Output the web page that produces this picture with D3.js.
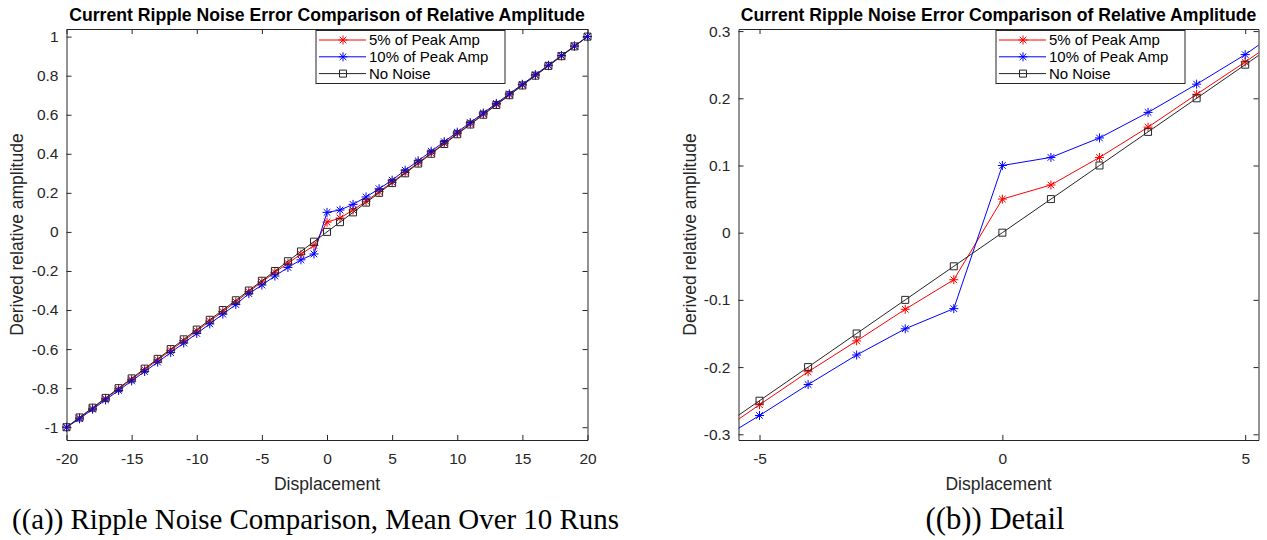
<!DOCTYPE html>
<html>
<head>
<meta charset="utf-8">
<script src="https://cdn.jsdelivr.net/npm/d3@7/dist/d3.min.js"></script>
<style>
    body { margin: 0; background: #fff; }
    svg { display: block; font-family: "Liberation Sans", Arial, Helvetica, sans-serif; }
    .axis text { fill: #262626; font-size: 15.5px; font-family: "Liberation Sans", Arial, Helvetica, sans-serif; }
    .axis path, .axis line { stroke: #262626; }
    .axisLabel { fill: #262626; font-size: 17.5px; text-anchor: middle; }
    .title { fill: #000; font-weight: bold; font-size: 15px; text-anchor: middle; }
    .caption { fill: #000; font-family: "Liberation Serif", "Times New Roman", serif; font-size: 24px; }
    .legendText { fill: #000; font-size: 15px; }
</style>
</head>
<body>
<svg id="fig" width="1267" height="540"></svg>
<script>
/* global d3 */

// Displacement steps, shared by every series
const displacement = [-20, -19, -18, -17, -16, -15, -14, -13, -12, -11, -10,
    -9, -8, -7, -6, -5, -4, -3, -2, -1, 0, 1, 2, 3, 4, 5, 6, 7, 8, 9, 10,
    11, 12, 13, 14, 15, 16, 17, 18, 19, 20];

// 5% of peak amplitude ripple noise (mean over 10 runs)
const peak5 = [-1.000, -0.952, -0.903, -0.853, -0.804, -0.755, -0.705, -0.656, -0.606, -0.557, -0.507,
    -0.457, -0.408, -0.358, -0.306, -0.256, -0.207, -0.161, -0.114, -0.070, 0.050, 0.071, 0.112, 0.157, 0.206, 0.254,
    0.304, 0.354, 0.404, 0.454, 0.504, 0.553, 0.603, 0.653, 0.702, 0.752, 0.802, 0.851, 0.901, 0.951, 1.000];

// 10% of peak amplitude ripple noise
const peak10 = [-1.000, -0.957, -0.908, -0.860, -0.812, -0.763, -0.715, -0.667, -0.618, -0.569, -0.520,
    -0.471, -0.421, -0.372, -0.316, -0.272, -0.226, -0.182, -0.143, -0.113, 0.100, 0.112, 0.141, 0.179, 0.221, 0.265,
    0.316, 0.364, 0.413, 0.462, 0.511, 0.560, 0.609, 0.658, 0.707, 0.756, 0.805, 0.854, 0.903, 0.952, 1.000];

// No noise reference
const noNoise = [-1.00, -0.95, -0.90, -0.85, -0.80, -0.75, -0.70, -0.65, -0.60, -0.55, -0.50,
    -0.45, -0.40, -0.35, -0.30, -0.25, -0.20, -0.15, -0.10, -0.05, 0.00, 0.05, 0.10, 0.15, 0.20, 0.25,
    0.30, 0.35, 0.40, 0.45, 0.50, 0.55, 0.60, 0.65, 0.70, 0.75, 0.80, 0.85, 0.90, 0.95, 1.00];

const seriesNames = ['5% of Peak Amp', '10% of Peak Amp', 'No Noise'];
const seriesColors = ['#ff0000', '#0000ff', '#262626'];
const seriesMarkers = ['star', 'star', 'square'];

const fullXTicks = [-20, -15, -10, -5, 0, 5, 10, 15, 20];
const fullYTicks = [-1, -0.8, -0.6, -0.4, -0.2, 0, 0.2, 0.4, 0.6, 0.8, 1];
const detailXTicks = [-5, 0, 5];
const detailYTicks = [-0.3, -0.2, -0.1, 0, 0.1, 0.2, 0.3];

const titleText = 'Current Ripple Noise Error Comparison of Relative Amplitude';
const xLabelText = 'Displacement';
const yLabelText = 'Derived relative amplitude';

// build rows for each series
const series = [peak5, peak10, noNoise].map((vals, i) => ({
    name: seriesNames[i],
    color: seriesColors[i],
    marker: seriesMarkers[i],
    values: displacement.map((x, j) => [x, vals[j]])
}));

// star = plus + cross, like matlab '*'
function markerPath(type) {
    if (type === 'square') return 'M-3.5,-3.5H3.5V3.5H-3.5Z';
    const r = 4.5, d = 3.3;
    return 'M0,' + (-r) + 'V' + r + 'M' + (-r) + ',0H' + r +
        'M' + (-d) + ',' + (-d) + 'L' + d + ',' + d + 'M' + (-d) + ',' + d + 'L' + d + ',' + (-d);
}

function fitWidth(sel, target) {
    const w = sel.node().getComputedTextLength();
    const fs = parseFloat(sel.style('font-size'));
    sel.style('font-size', (fs * target / w) + 'px');
}

function ripplechart() {
    let box = { left: 66, top: 29, right: 587, bottom: 440 },
        xDomain = [-20, 20],
        yDomain = [-1, 1],
        xTicks = [],
        yTicks = [],
        clip = false,
        id = 'c',
        yLabelX = 17,
        legendX = 316,
        xScale = d3.scaleLinear(),
        yScale = d3.scaleLinear();

    function chart(svg) {
        const width = box.right - box.left,
            height = box.bottom - box.top;
        const g = svg.append('g')
            .attr('transform', 'translate(' + box.left + ',' + box.top + ')');

        xScale.domain(xDomain).range([0, width]);
        yScale.domain(yDomain).range([height, 0]);

        const fmt = d => String(+d.toFixed(2));

        // bottom + left axes with inward ticks
        g.append('g').attr('class', 'axis')
            .attr('transform', 'translate(0,' + height + ')')
            .call(d3.axisBottom(xScale).tickValues(xTicks).tickFormat(fmt)
                .tickSizeInner(-5).tickSizeOuter(0).tickPadding(13));
        g.append('g').attr('class', 'axis')
            .call(d3.axisLeft(yScale).tickValues(yTicks).tickFormat(fmt)
                .tickSizeInner(-5).tickSizeOuter(0).tickPadding(8));
        // top + right, ticks only
        g.append('g').attr('class', 'axis')
            .call(d3.axisTop(xScale).tickValues(xTicks).tickFormat('')
                .tickSizeInner(-5).tickSizeOuter(0));
        g.append('g').attr('class', 'axis')
            .attr('transform', 'translate(' + width + ',0)')
            .call(d3.axisRight(yScale).tickValues(yTicks).tickFormat('')
                .tickSizeInner(-5).tickSizeOuter(0));

        // Title
        const title = g.append('text')
            .attr('class', 'title')
            .attr('x', width / 2)
            .attr('y', -8.5)
            .text(titleText);
        fitWidth(title, 516);

        // Axis labels
        g.append('text')
            .attr('class', 'axisLabel')
            .attr('x', width / 2)
            .attr('y', height + 50)
            .text(xLabelText);
        g.append('text')
            .attr('class', 'axisLabel')
            .attr('transform', 'translate(' + (yLabelX - box.left + 6) + ',' + (height / 2) + ') rotate(-90)')
            .text(yLabelText);

        let plot = g.append('g');
        if (clip) {
            g.append('clipPath').attr('id', id + '-clip')
                .append('rect').attr('width', width).attr('height', height);
            plot.attr('clip-path', 'url(#' + id + '-clip)');
        }

        const line = d3.line().x(X).y(Y);

        const s = plot.selectAll('.series')
            .data(series)
            .enter().append('g')
            .attr('class', 'series');

        s.append('path')
            .attr('fill', 'none')
            .attr('stroke', d => d.color)
            .attr('stroke-width', 1)
            .attr('d', d => line(d.values));

        s.selectAll('.pt')
            .data(d => d.values.map(v => ({ v: v, color: d.color, marker: d.marker })))
            .enter().append('path')
            .attr('class', 'pt')
            .attr('transform', d => 'translate(' + X(d.v) + ',' + Y(d.v) + ')')
            .attr('d', d => markerPath(d.marker))
            .attr('fill', 'none')
            .attr('stroke', d => d.color)
            .attr('stroke-width', 1);

        // Legend
        const lg = g.append('g')
            .attr('transform', 'translate(' + (legendX - box.left) + ',1.5)');
        lg.append('rect')
            .attr('width', 189)
            .attr('height', 53)
            .attr('fill', '#fff')
            .attr('stroke', '#262626')
            .attr('stroke-width', 1);
        const rows = lg.selectAll('.lrow')
            .data(series)
            .enter().append('g')
            .attr('class', 'lrow')
            .attr('transform', (d, i) => 'translate(0,' + (9.5 + i * 16.8) + ')');
        rows.append('line')
            .attr('x1', 3).attr('x2', 50)
            .attr('stroke', d => d.color);
        rows.append('path')
            .attr('transform', 'translate(27,0)')
            .attr('d', d => markerPath(d.marker))
            .attr('fill', 'none')
            .attr('stroke', d => d.color);
        rows.append('text')
            .attr('class', 'legendText')
            .attr('x', 53)
            .attr('dy', '0.35em')
            .text(d => d.name);

        return chart;
    }

    function X(d) { return xScale(d[0]); }
    function Y(d) { return yScale(d[1]); }

    chart.box = function(_) { if (!arguments.length) return box; box = _; return chart; };
    chart.xDomain = function(_) { if (!arguments.length) return xDomain; xDomain = _; return chart; };
    chart.yDomain = function(_) { if (!arguments.length) return yDomain; yDomain = _; return chart; };
    chart.xTicks = function(_) { if (!arguments.length) return xTicks; xTicks = _; return chart; };
    chart.yTicks = function(_) { if (!arguments.length) return yTicks; yTicks = _; return chart; };
    chart.clip = function(_) { if (!arguments.length) return clip; clip = _; return chart; };
    chart.id = function(_) { if (!arguments.length) return id; id = _; return chart; };
    chart.yLabelX = function(_) { if (!arguments.length) return yLabelX; yLabelX = _; return chart; };
    chart.legendX = function(_) { if (!arguments.length) return legendX; legendX = _; return chart; };

    return chart;
}

const svg = d3.select('#fig');

ripplechart()
    .id('full')
    .box({ left: 66.5, top: 29, right: 587.5, bottom: 440 })
    .xDomain([-20, 20])
    .yDomain([-1.0655, 1.039])
    .xTicks(fullXTicks)
    .yTicks(fullYTicks)
    .legendX(316)
    .yLabelX(17)(svg);

ripplechart()
    .id('detail')
    .box({ left: 738.5, top: 29, right: 1258.5, bottom: 440 })
    .xDomain([-5.433, 5.274])
    .yDomain([-0.3085, 0.3031])
    .xTicks(detailXTicks)
    .yTicks(detailYTicks)
    .clip(true)
    .legendX(996)
    .yLabelX(690)(svg);

// Sub-figure captions
const capA = svg.append('text')
    .attr('class', 'caption')
    .attr('x', 12)
    .attr('y', 529)
    .text('((a)) Ripple Noise Comparison, Mean Over 10 Runs');
fitWidth(capA, 607);

const capB = svg.append('text')
    .attr('class', 'caption')
    .attr('x', 995)
    .attr('y', 529)
    .attr('text-anchor', 'middle')
    .text('((b)) Detail');
fitWidth(capB, 139);
</script>
</body>
</html>
